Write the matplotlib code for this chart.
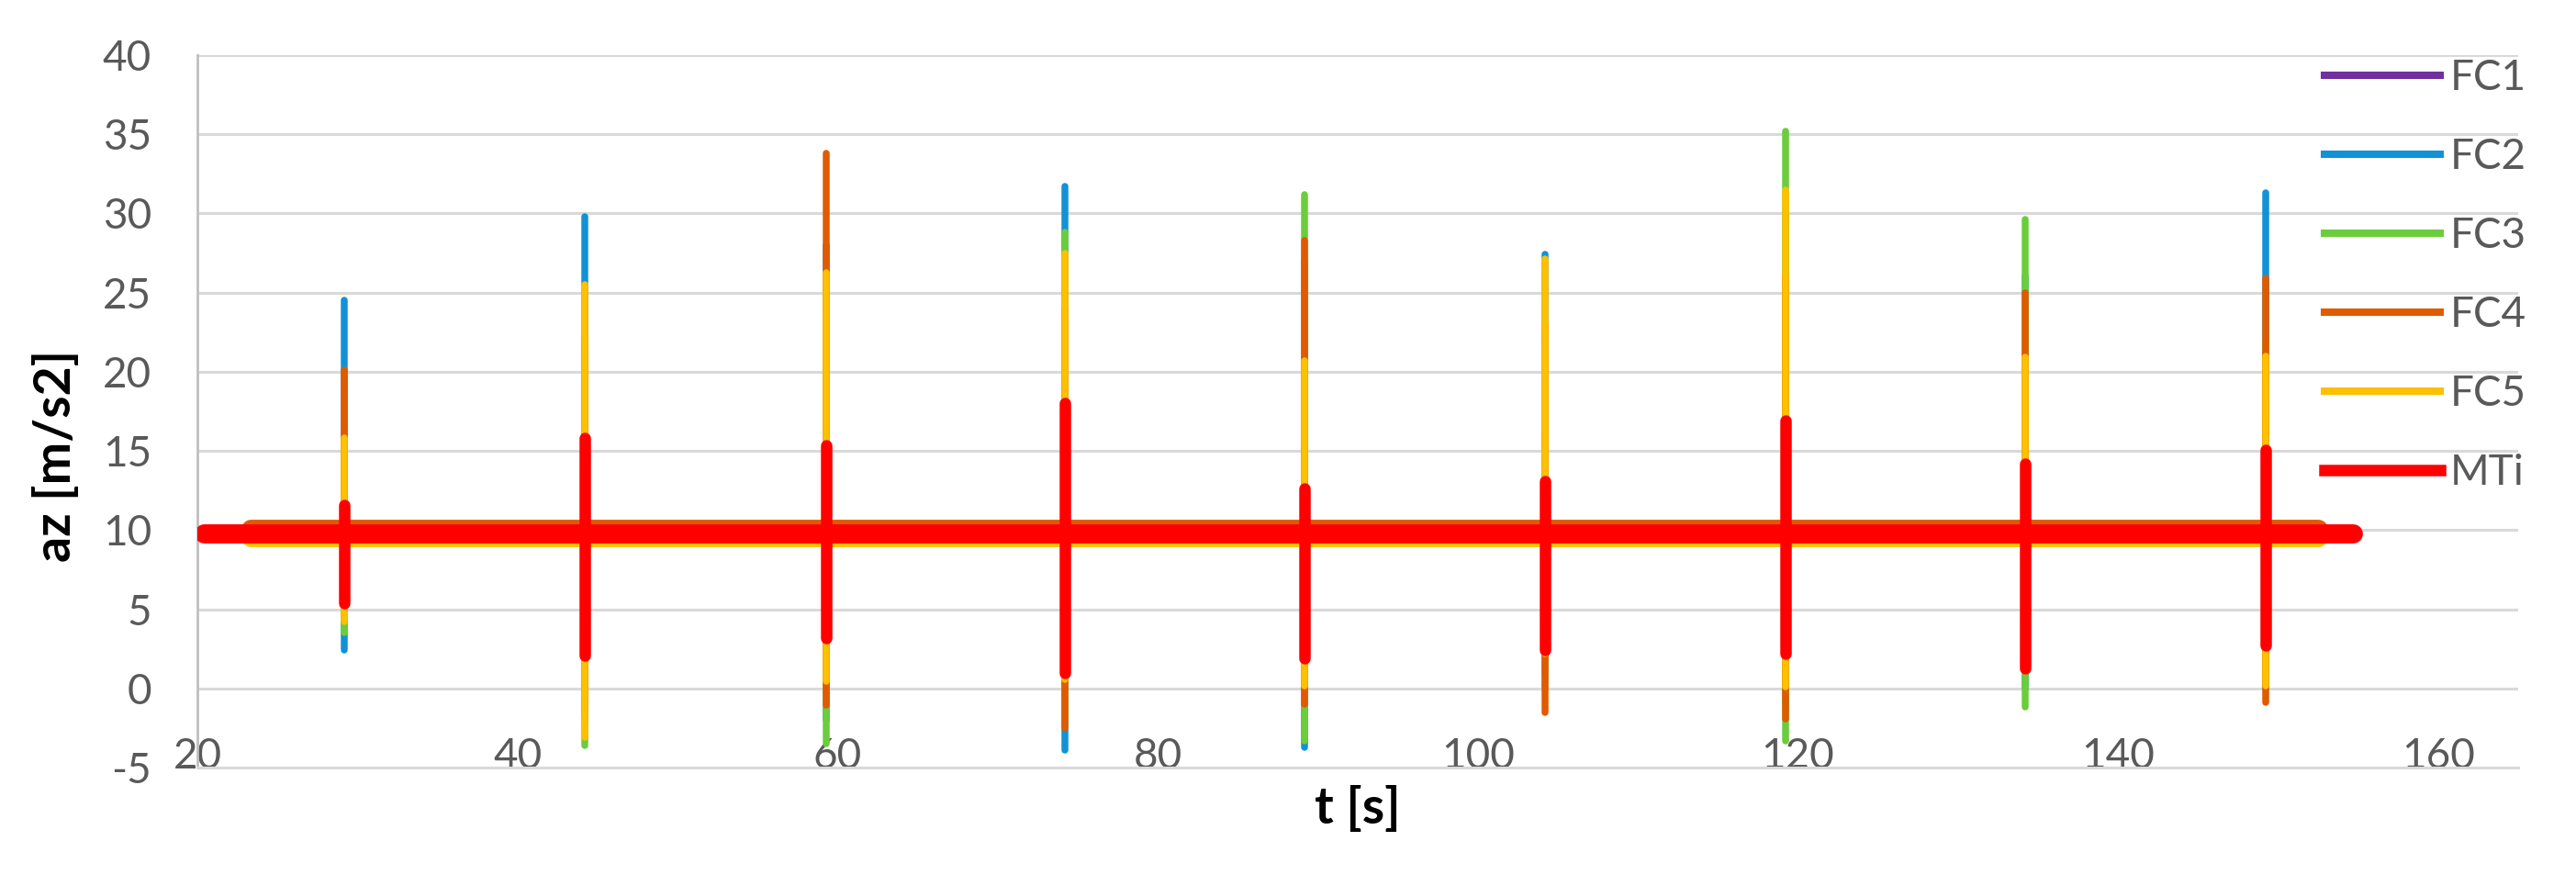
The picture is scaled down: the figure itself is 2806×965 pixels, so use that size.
import matplotlib.pyplot as plt
from matplotlib.lines import Line2D

plt.rcParams['font.family'] = ['Lato', 'DejaVu Sans']

# spike times [s] (the 9 impacts)
spike_t = [29.2, 44.2, 59.3, 74.2, 89.2, 104.2, 119.2, 134.2, 149.2]

# peak / trough of each sensor at every spike [m/s2]
fc1_max = [12.0, 18.0, 20.0, 19.0, 17.0, 16.0, 22.0, 17.0, 18.0]
fc1_min = [5.5, 0.0, 1.0, 0.0, 0.0, 2.5, 0.5, 1.5, 1.0]
fc2_max = [24.5, 29.8, 28.0, 31.7, 27.0, 27.4, 30.0, 26.0, 31.3]
fc2_min = [2.4, -2.0, -2.0, -3.9, -3.7, 1.0, -1.0, 0.0, 0.0]
fc3_max = [14.0, 21.0, 24.0, 28.8, 31.2, 22.0, 35.2, 29.6, 22.0]
fc3_min = [3.5, -3.6, -3.5, -1.8, -3.3, 0.0, -3.3, -1.2, 0.5]
fc4_max = [20.1, 22.0, 33.8, 24.0, 28.3, 23.0, 26.0, 25.0, 25.9]
fc4_min = [5.0, -1.5, -1.05, -2.5, -1.0, -1.5, -1.9, 1.5, -0.9]
fc5_max = [15.8, 25.5, 26.25, 27.5, 20.7, 27.1, 31.5, 20.9, 21.0]
fc5_min = [4.2, -3.1, 0.45, 0.55, 0.15, 2.2, 0.1, 1.1, 0.15]
mti_max = [11.6, 15.8, 15.35, 18.0, 12.6, 13.1, 16.9, 14.2, 15.05]
mti_min = [5.4, 2.1, 3.2, 1.0, 1.9, 2.4, 2.2, 1.25, 2.7]

# resting level and recording span of each sensor
names = ['FC1', 'FC2', 'FC3', 'FC4', 'FC5', 'MTi']
base = [9.85, 9.85, 9.85, 10.05, 9.55, 9.8]
t_start = [23.3, 23.3, 23.3, 23.3, 23.3, 20.4]
t_end = [152.5, 152.5, 152.5, 152.5, 152.5, 154.7]

maxs = [fc1_max, fc2_max, fc3_max, fc4_max, fc5_max, mti_max]
mins = [fc1_min, fc2_min, fc3_min, fc4_min, fc5_min, mti_min]
colors = ['#7030a0', '#1192d6', '#6bcd3c', '#e05a00', '#ffc000', '#ff0000']

yticks = [-5, 0, 5, 10, 15, 20, 25, 30, 35, 40]
xticks = [20, 40, 60, 80, 100, 120, 140, 160]

W, H = 2806, 965
fig = plt.figure(figsize=(W / 100, H / 100), dpi=100)
ax = fig.add_axes([215 / W, 1 - 836 / H, (2743 - 215) / W, (836 - 60) / H])

for i in range(len(names)):
    spike_lw = 9.0 if names[i] == 'MTi' else 5.4
    ax.plot([t_start[i], t_end[i]], [base[i], base[i]], color=colors[i],
            lw=15, solid_capstyle='round', zorder=2 + 2 * i)
    ax.vlines(spike_t, mins[i], maxs[i], color=colors[i], lw=spike_lw,
              capstyle='round', zorder=3 + 2 * i)

ax.set_xlim(20, 165)
ax.set_ylim(-5, 40)
ax.set_yticks(yticks, labels=[str(v) for v in yticks])
ax.set_xticks(xticks, labels=[str(v) for v in xticks])
ax.tick_params(axis='both', length=0, labelsize=33, labelcolor='#595959')
ax.tick_params(axis='y', pad=36)
ax.tick_params(axis='x', pad=-24)

ax.yaxis.grid(True, color='#d9d9d9', lw=2.2)
ax.set_axisbelow(True)
for s in ['top', 'right']:
    ax.spines[s].set_visible(False)
ax.spines['left'].set_color('#bfbfbf')
ax.spines['left'].set_linewidth(2)
ax.spines['bottom'].set_color('#d9d9d9')
ax.spines['bottom'].set_linewidth(2.2)

ax.set_xlabel('t [s]', fontsize=40, fontweight='bold')
ax.set_ylabel('az [m/s2]', fontsize=40, fontweight='bold')
ax.xaxis.set_label_coords(0.5, -0.024)
ax.yaxis.set_label_coords(-0.051, 0.438)

handles = [Line2D([], [], color=c, lw=9.0 if n == 'MTi' else 5.8)
           for n, c in zip(names, colors)]
leg = fig.legend(handles, names, loc='upper left',
                 bbox_to_anchor=(2532 / W, 1 - 64 / H), frameon=False,
                 fontsize=33, handlelength=2.75, handletextpad=0.24,
                 labelspacing=0.96, borderpad=0, borderaxespad=0)
for txt in leg.get_texts():
    txt.set_color('#595959')

fig.savefig('out.png')
